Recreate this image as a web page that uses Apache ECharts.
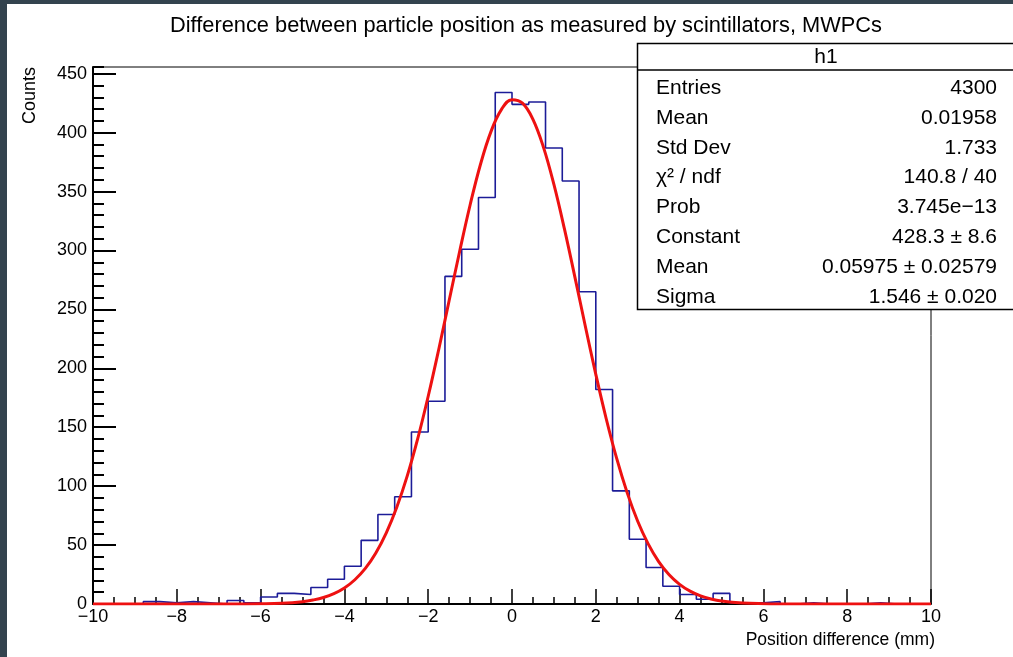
<!DOCTYPE html>
<html>
<head>
<meta charset="utf-8">
<script src="https://cdn.jsdelivr.net/npm/echarts@6/dist/echarts.min.js"></script>
<style>
html,body{margin:0;padding:0;background:#fff;}
#c{width:1013px;height:657px;}
</style>
</head>
<body>
<div id="c"></div>
<script>
// ---- data ----
const titleText = 'Difference between particle position as measured by scintillators, MWPCs';
const xTitle = 'Position difference (mm)';
const yTitle = 'Counts';

// left edges of the 0.4 mm bins
const binEdges = [-10.0,-9.6,-9.2,-8.8,-8.4,-8.0,-7.6,-7.2,-6.8,-6.4,
                  -6.0,-5.6,-5.2,-4.8,-4.4,-4.0,-3.6,-3.2,-2.8,-2.4,
                  -2.0,-1.6,-1.2,-0.8,-0.4,0.0,0.4,0.8,1.2,1.6,
                  2.0,2.4,2.8,3.2,3.6,4.0,4.4,4.8,5.2,5.6,
                  6.0,6.4,6.8,7.2,7.6,8.0,8.4,8.8,9.2,9.6];
const xEnd = 10;
const binCounts = [0,0,0,2,1,2,1,0,3,1,
                   6,9,8,14,21,32,54,76,91,146,
                   172,278,301,345,434,424,426,387,359,265,
                   182,96,55,31,15,8,4,9,1,1,
                   2,0,1,0,0,0,1,0,0,0];

// fitted gaussian curve
const fitX = [-10,-8,-7,-6.5,-6,-5.5,-5,-4.75,-4.5,-4.25,-4,-3.75,-3.5,-3.25,-3,-2.75,-2.5,-2.25,-2,-1.75,-1.5,-1.25,-1,-0.75,-0.5,-0.25,0,0.25,0.5,0.75,1,1.25,1.5,1.75,2,2.25,2.5,2.75,3,3.25,3.5,3.75,4,4.25,4.5,4.75,5,5.5,6,6.5,7,8,10];
const fitY = [0,0,0.01,0.05,0.2,0.66,2.0,3.4,5.5,8.8,13.6,20.6,30.2,43.3,60.4,82.1,108.7,140.3,176.3,215.8,257.5,299.1,338.6,373.4,401.1,419.8,428.0,425.1,411.3,387.7,356.0,318.5,277.6,235.7,194.9,157.0,123.3,94.3,70.2,51.0,36.0,24.8,16.7,10.9,6.9,4.3,2.6,0.88,0.27,0.07,0.02,0,0];

const statsName = 'h1';
const statsLabels = ['Entries','Mean','Std Dev','\u03C7\u00B2 / ndf','Prob','Constant','Mean','Sigma'];
const statsValues = ['4300','0.01958','1.733','140.8 / 40','3.745e\u221213','428.3 \u00B1 8.6','0.05975 \u00B1 0.02579','1.546 \u00B1 0.020'];

const yMax = 455.7;

// ---- chart ----
const FONT = "'Liberation Sans', Arial, Helvetica, sans-serif";
const chart = echarts.init(document.getElementById('c'), null, {renderer: 'canvas', width: 1013, height: 657});

const histData = binEdges.map((e, i) => [e, binCounts[i]]);
histData.push([xEnd, binCounts[binCounts.length - 1]]);
const fitData = fitX.map((x, i) => [x, fitY[i]]);

const fmtMinus = v => (v < 0 ? '\u2212' + Math.abs(v) : String(v));

const statsGraphics = [];
const rowY0 = 88, rowStep = 29.9;
statsLabels.forEach((t, i) => {
  statsGraphics.push({
    type: 'text', x: 656, y: rowY0 + i * rowStep, z: 101,
    style: {text: t, fill: '#000', font: '21px ' + FONT, textAlign: 'left', textVerticalAlign: 'middle'}
  });
  statsGraphics.push({
    type: 'text', x: 997, y: rowY0 + i * rowStep, z: 101,
    style: {text: statsValues[i], fill: '#000', font: '21px ' + FONT, textAlign: 'right', textVerticalAlign: 'middle'}
  });
});

const option = {
  animation: false,
  backgroundColor: '#fff',
  title: {
    text: titleText, left: 165, top: 10,
    textStyle: {fontSize: 21.8, fontWeight: 'normal', color: '#000', fontFamily: FONT}
  },
  grid: {left: 93, right: 82, top: 67, bottom: 53, show: true, borderColor: '#000', borderWidth: 1, backgroundColor: 'transparent'},
  xAxis: {
    type: 'value', min: -10, max: 10, interval: 2,
    axisLine: {show: true, onZero: false, lineStyle: {color: '#000', width: 2}},
    axisTick: {show: true, inside: true, length: 15, lineStyle: {color: '#000', width: 1.5}},
    minorTick: {show: true, splitNumber: 4, length: 7, lineStyle: {color: '#000', width: 1.5}},
    splitLine: {show: false}, minorSplitLine: {show: false},
    axisLabel: {formatter: fmtMinus, fontSize: 18, color: '#000', fontFamily: FONT, margin: 4}
  },
  yAxis: [{
    type: 'value', position: 'left', min: 0, max: yMax, interval: 50,
    axisLine: {show: true, onZero: false, lineStyle: {color: '#000', width: 2}},
    axisTick: {show: true, inside: true, length: 23, lineStyle: {color: '#000', width: 2}},
    splitLine: {show: false},
    axisLabel: {fontSize: 18, color: '#000', fontFamily: FONT, margin: 6, showMaxLabel: false}
  }, {
    type: 'value', position: 'left', min: 0, max: yMax, interval: 10,
    axisLine: {show: false, onZero: false},
    axisTick: {show: true, inside: true, length: 11, lineStyle: {color: '#000', width: 2}},
    splitLine: {show: false},
    axisLabel: {show: false}
  }],
  series: [{
    name: 'h1', type: 'line', xAxisIndex: 0, yAxisIndex: 0,
    data: histData, step: 'end', symbol: 'none',
    lineStyle: {color: '#1c1c98', width: 1.6}, z: 2
  }, {
    name: 'gaus', type: 'line', xAxisIndex: 0, yAxisIndex: 0,
    data: fitData, smooth: 0.4, symbol: 'none',
    lineStyle: {color: '#ee1111', width: 3}, z: 3
  }],
  graphic: [
    {type: 'rect', shape: {x: 0, y: 0, width: 7, height: 657}, style: {fill: '#33434e'}, z: 200},
    {type: 'rect', shape: {x: 0, y: 0, width: 1013, height: 4}, style: {fill: '#33434e'}, z: 200},
    {type: 'rect', shape: {x: 637.5, y: 43.5, width: 400, height: 266}, style: {fill: '#fff', stroke: '#000', lineWidth: 1.5}, z: 100},
    {type: 'line', shape: {x1: 637.5, y1: 70, x2: 1013, y2: 70}, style: {stroke: '#000', lineWidth: 1.5}, z: 101},
    {type: 'text', x: 826, y: 57, z: 101, style: {text: statsName, fill: '#000', font: '21px ' + FONT, textAlign: 'center', textVerticalAlign: 'middle'}},
    ...statsGraphics,
    {type: 'text', x: 935, y: 640, z: 101, style: {text: xTitle, fill: '#000', font: '17.5px ' + FONT, textAlign: 'right', textVerticalAlign: 'middle'}},
    {type: 'text', x: 30, y: 67, rotation: Math.PI / 2, z: 101, style: {text: yTitle, fill: '#000', font: '18px ' + FONT, textAlign: 'right', textVerticalAlign: 'middle'}}
  ]
};
chart.setOption(option);
</script>
</body>
</html>
